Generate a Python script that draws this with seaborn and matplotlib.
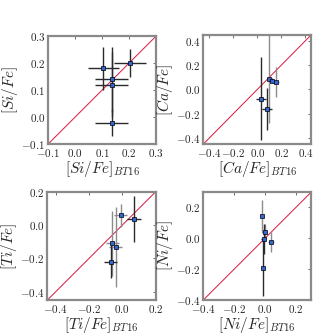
import numpy as np
import pandas as pd
import matplotlib
matplotlib.use('Agg')
import matplotlib.pyplot as plt
import seaborn as sns
from matplotlib.ticker import FuncFormatter

# abundance ratios: ours vs BT16, with errors
si_x = [0.105, 0.203, 0.135, 0.135, 0.135]
si_y = [0.18, 0.20, 0.14, 0.12, -0.02]
si_xerr = [0.058, 0.06, 0.06, 0.06, 0.06]
si_yerr = [0.08, 0.05, 0.12, 0.12, 0.05]
si_dark = [1, 1, 1, 1, 1]

ca_x = [0.096, 0.123, 0.151, 0.032, 0.081]
ca_y = [0.083, 0.07, 0.061, -0.077, -0.16]
ca_xerr = [0.02, 0.03, 0.03, 0.04, 0.04]
ca_yerr = [0.36, 0.02, 0.12, 0.34, 0.175]
ca_dark = [0, 1, 0, 1, 1]

ti_x = [-0.01, 0.07, -0.06, -0.04, -0.07]
ti_y = [0.06, 0.038, -0.11, -0.13, -0.22]
ti_xerr = [0.04, 0.04, 0.04, 0.04, 0.04]
ti_yerr = [0.07, 0.14, 0.195, 0.24, 0.10]
ti_dark = [0, 1, 0, 0, 1]

ni_x = [-0.021, -0.003, -0.01, 0.037, -0.014]
ni_y = [0.141, 0.042, -0.005, -0.026, -0.194]
ni_xerr = [0.015, 0.015, 0.015, 0.02, 0.015]
ni_yerr = [0.107, 0.05, 0.10, 0.065, 0.18]
ni_dark = [0, 0, 1, 0, 1]

panels = [
    ('Si', si_x, si_y, si_xerr, si_yerr, si_dark, (-0.1, 0.3), (-0.1, 0.3),
     [-0.1, 0.0, 0.1, 0.2, 0.3], [-0.1, 0.0, 0.1, 0.2, 0.3]),
    ('Ca', ca_x, ca_y, ca_xerr, ca_yerr, ca_dark, (-0.45, 0.45), (-0.45, 0.45),
     [-0.4, -0.2, 0.0, 0.2, 0.4], [-0.4, -0.2, 0.0, 0.2, 0.4]),
    ('Ti', ti_x, ti_y, ti_xerr, ti_yerr, ti_dark, (-0.45, 0.2), (-0.45, 0.2),
     [-0.4, -0.2, 0.0, 0.2], [-0.4, -0.2, 0.0, 0.2]),
    ('Ni', ni_x, ni_y, ni_xerr, ni_yerr, ni_dark, (-0.4, 0.3), (-0.4, 0.3),
     [-0.4, -0.2, 0.0, 0.2], [-0.4, -0.2, 0.0, 0.2]),
]

sns.set_style('white')
plt.rcParams['mathtext.fontset'] = 'cm'
plt.rcParams['font.family'] = ['DejaVu Serif']

fig = plt.figure(figsize=(3.36, 3.36), dpi=100)
boxes = [
    [0.143, 0.571, 0.322, 0.322],
    [0.605, 0.571, 0.322, 0.326],
    [0.141, 0.107, 0.322, 0.322],
    [0.605, 0.107, 0.322, 0.322],
]

fmt = FuncFormatter(lambda v, p: '$%.1f$' % v)

for box, (el, x, y, xe, ye, dark, xl, yl, xt, yt) in zip(boxes, panels):
    ax = fig.add_axes(box)
    lo = min(xl[0], yl[0])
    hi = max(xl[1], yl[1])
    ax.plot([lo, hi], [lo, hi], color='crimson', lw=0.7, zorder=1)
    for i in range(len(x)):
        c = '#2a2a2a' if dark[i] else '#8c8c8c'
        ax.errorbar(x[i], y[i], xerr=xe[i], yerr=ye[i], fmt='none',
                    ecolor=c, elinewidth=1.0, capsize=0, zorder=2)
    df = pd.DataFrame({'x': x, 'y': y})
    sns.scatterplot(data=df, x='x', y='y', ax=ax, marker='s', s=10,
                    color='#3566d6', edgecolor='black', linewidth=0.5, zorder=3)
    ax.set_xlim(xl)
    ax.set_ylim(yl)
    ax.set_xticks(xt)
    ax.set_yticks(yt)
    ax.xaxis.set_major_formatter(fmt)
    ax.yaxis.set_major_formatter(fmt)
    ax.tick_params(direction='in', top=True, right=True, length=2.5,
                   width=0.6, color='#555555', labelsize=8, pad=2)
    for s in ax.spines.values():
        s.set_color('#8a8a8a')
        s.set_linewidth(1.6)
    ax.set_xlabel(r'$[%s/Fe]_{BT16}$' % el, fontsize=11, labelpad=0)
    ax.set_ylabel(r'$[%s/Fe]$' % el, fontsize=11, labelpad=1)

fig.savefig('out.png', dpi=100)
